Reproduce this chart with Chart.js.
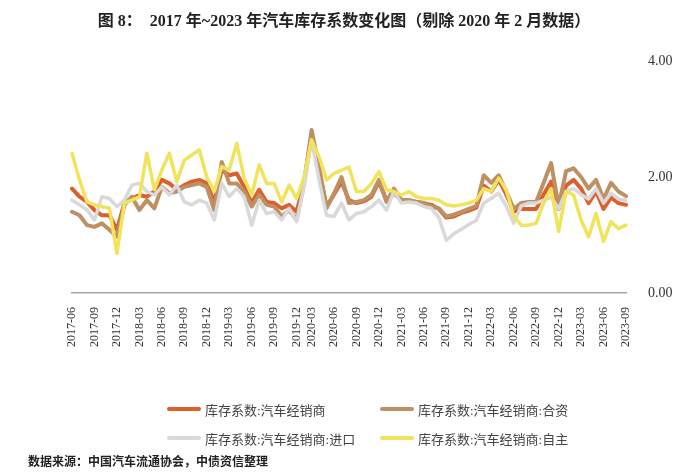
<!DOCTYPE html>
<html>
<head>
<meta charset="utf-8">
<script src="https://cdn.jsdelivr.net/npm/chart.js@4.4.1/dist/chart.umd.min.js"></script>
<style>
  html, body { margin:0; padding:0; background:#fff; }
  #wrap { position:relative; width:700px; height:476px; overflow:hidden; }
  #c { position:absolute; left:0; top:0; }
  #title { position:absolute; top:7px; left:0; width:688px; text-align:center;
    font-family:"Liberation Serif","Noto Sans CJK SC",serif; font-weight:bold; font-size:16px; color:#222; white-space:pre; }
  .lg { position:absolute; font-family:"Liberation Serif","Noto Sans CJK SC",serif; font-size:13px; color:#444; white-space:nowrap; }
  .sw { position:absolute; height:4px; width:34px; border-radius:2px; }
  #src { position:absolute; left:28px; top:452px; font-family:"Noto Sans CJK SC",sans-serif; font-weight:bold; font-size:12px; color:#222; }
</style>
</head>
<body>
<div id="wrap">
  <canvas id="c" width="700" height="476"></canvas>
  <div id="title"></div>
  <div id="legend"></div>
  <div id="src"></div>
</div>
<script>
const titleText = "图 8：  2017 年~2023 年汽车库存系数变化图（剔除 2020 年 2 月数据）";
const sourceText = "数据来源：中国汽车流通协会，中债资信整理";

const months = [
  "2017-06","2017-07","2017-08","2017-09","2017-10","2017-11","2017-12",
  "2018-01","2018-02","2018-03","2018-04","2018-05","2018-06","2018-07","2018-08","2018-09","2018-10","2018-11","2018-12",
  "2019-01","2019-02","2019-03","2019-04","2019-05","2019-06","2019-07","2019-08","2019-09","2019-10","2019-11","2019-12",
  "2020-01","2020-03","2020-04","2020-05","2020-06","2020-07","2020-08","2020-09","2020-10","2020-11","2020-12",
  "2021-01","2021-02","2021-03","2021-04","2021-05","2021-06","2021-07","2021-08","2021-09","2021-10","2021-11","2021-12",
  "2022-01","2022-02","2022-03","2022-04","2022-05","2022-06","2022-07","2022-08","2022-09","2022-10","2022-11","2022-12",
  "2023-01","2023-02","2023-03","2023-04","2023-05","2023-06","2023-07","2023-08","2023-09"
];

const seriesNames = ["库存系数:汽车经销商","库存系数:汽车经销商:合资","库存系数:汽车经销商:进口","库存系数:汽车经销商:自主"];

const dealerAll = [
  1.80,1.66,1.57,1.43,1.34,1.34,1.09,
  1.55,1.63,1.69,1.66,1.75,1.95,1.89,1.78,1.86,1.92,1.95,1.89,
  1.57,2.12,2.03,2.06,1.83,1.55,1.78,1.57,1.55,1.46,1.52,1.40,
  1.92,2.72,2.12,1.49,1.70,1.92,1.60,1.55,1.58,1.66,1.92,
  1.60,1.72,1.60,1.60,1.57,1.55,1.52,1.45,1.30,1.32,1.38,1.42,
  1.47,1.85,1.75,1.95,1.70,1.40,1.45,1.45,1.45,1.70,1.92,1.45,
  1.85,1.95,1.80,1.55,1.75,1.45,1.65,1.55,1.52
];
const dealerJV = [
  1.40,1.34,1.17,1.14,1.20,1.09,0.97,
  1.52,1.66,1.43,1.60,1.46,1.83,1.72,1.75,1.83,1.86,1.89,1.83,
  1.43,2.26,1.89,1.89,1.75,1.49,1.69,1.52,1.49,1.32,1.43,1.26,
  1.89,2.81,2.18,1.46,1.72,2.00,1.55,1.57,1.60,1.69,1.95,
  1.57,1.80,1.60,1.60,1.57,1.55,1.49,1.46,1.32,1.35,1.40,1.45,
  1.50,2.03,1.90,2.03,1.75,1.45,1.55,1.57,1.57,1.90,2.24,1.50,
  2.10,2.15,2.00,1.80,1.95,1.62,1.90,1.75,1.67
];
const dealerImport = [
  1.60,1.52,1.43,1.26,1.66,1.63,1.49,
  1.60,1.86,1.89,1.75,1.69,1.83,1.69,1.86,1.57,1.52,1.60,1.55,
  1.26,1.89,1.66,1.80,1.66,1.17,1.60,1.37,1.40,1.26,1.46,1.23,
  1.83,2.64,1.95,1.34,1.32,1.55,1.26,1.37,1.40,1.49,1.60,
  1.43,1.75,1.55,1.57,1.55,1.49,1.46,1.30,0.91,1.02,1.10,1.18,
  1.25,1.55,1.63,1.72,1.50,1.20,1.50,1.55,1.55,1.60,1.65,1.45,
  1.75,1.80,1.70,1.62,1.80,1.55,1.72,1.62,1.60
];
const dealerDomestic = [
  2.41,1.95,1.57,1.52,1.49,1.46,0.68,
  1.55,1.60,1.66,2.41,1.78,2.12,2.41,1.92,2.29,2.38,2.47,2.00,
  1.75,2.18,2.12,2.58,1.98,1.69,2.21,1.89,1.89,1.57,1.86,1.63,
  2.00,2.64,2.35,1.95,2.06,2.12,2.17,1.75,1.75,1.89,2.09,
  1.78,1.75,1.69,1.75,1.66,1.63,1.63,1.60,1.52,1.50,1.52,1.55,
  1.60,1.80,1.75,1.98,1.78,1.32,1.17,1.17,1.20,1.55,1.80,1.06,
  1.75,1.69,1.26,0.97,1.37,0.89,1.23,1.11,1.17
];
const yTicks = [0, 2, 4];
const colors = ["#DC5F2C", "#BE9164", "#D9D9D9", "#F1E35C"];

document.getElementById('title').textContent = titleText;
document.getElementById('src').textContent = sourceText;

// HTML legend
const legendPos = [[167,409],[380,409],[167,438],[380,438]];
const lg = document.getElementById('legend');
seriesNames.forEach((n,i)=>{
  const [x,y] = legendPos[i];
  const sw = document.createElement('div');
  sw.className='sw'; sw.style.left=x+'px'; sw.style.top=(y-2)+'px'; sw.style.background=colors[i];
  lg.appendChild(sw);
  const t = document.createElement('div');
  t.className='lg'; t.style.left=(x+38)+'px'; t.style.top=(y-9)+'px'; t.textContent=n;
  lg.appendChild(t);
});

const serif = "'Liberation Serif', 'Times New Roman', serif";
const allSeries = [dealerAll, dealerJV, dealerImport, dealerDomestic];
const widths = [4, 4, 3.5, 3.5];
const orders = [4, 3, 2, 1];

new Chart(document.getElementById('c'), {
  type: 'line',
  data: {
    labels: months,
    datasets: allSeries.map((d,i)=>({
      label: seriesNames[i], data: d, borderColor: colors[i], backgroundColor: colors[i],
      borderWidth: widths[i], pointRadius: 0, tension: 0, fill: false, order: orders[i],
      borderJoinStyle: 'round', borderCapStyle: 'round'
    }))
  },
  options: {
    responsive: false, animation: false,
    layout: { padding: { left: 72, right: 0, top: 61, bottom: 0 } },
    plugins: { legend: { display: false }, tooltip: { enabled: false } },
    scales: {
      x: {
        offset: false,
        grid: { display: false },
        border: { display: true, color: '#A6A6A6', width: 1.5 },
        afterFit: s => { s.height = 476 - 293; },
        ticks: {
          autoSkip: false, maxRotation: 90, minRotation: 90, padding: 6,
          color: '#333', font: { family: serif, size: 12 },
          callback: function(v, idx) {
            const l = months[idx];
            const m = l.slice(5);
            return (m === '03' || m === '06' || m === '09' || m === '12') ? l : '';
          }
        }
      },
      y: {
        position: 'right', min: 0, max: 4,
        grid: { display: false },
        border: { display: false },
        afterFit: s => { s.width = 74; },
        afterBuildTicks: s => { s.ticks = yTicks.map(v=>({value:v})); },
        ticks: {
          padding: 14, color: '#333', font: { family: serif, size: 14 },
          callback: v => Number(v).toFixed(2)
        }
      }
    }
  }
});
</script>
</body>
</html>
